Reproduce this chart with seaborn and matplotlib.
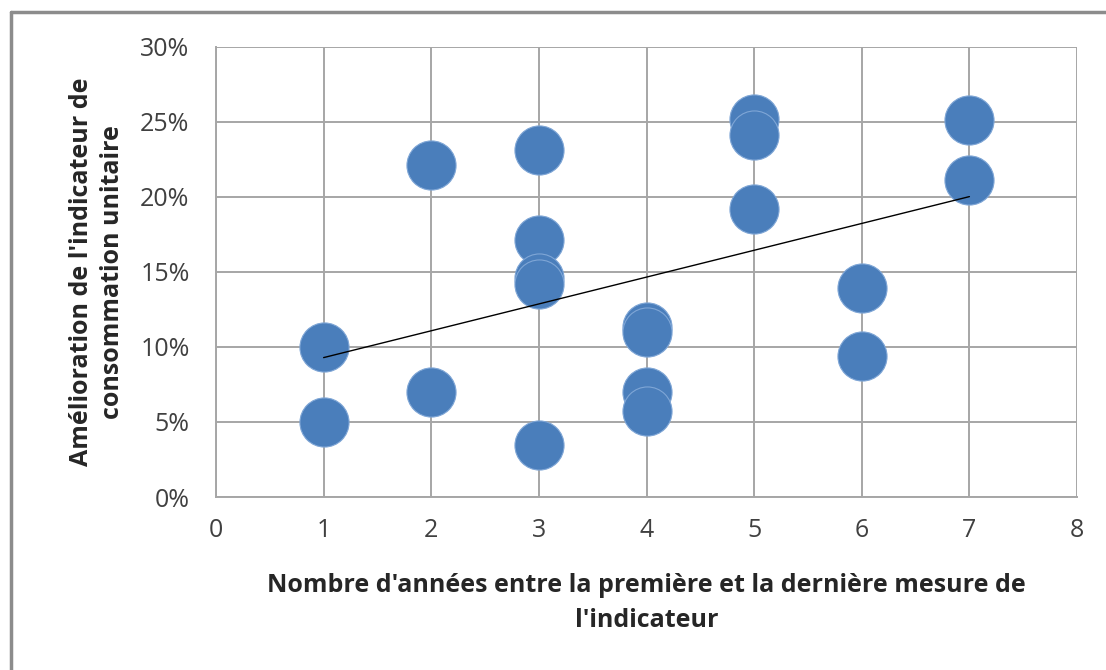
import numpy as np
import pandas as pd
import matplotlib
matplotlib.use("Agg")
import matplotlib.pyplot as plt
import seaborn as sns
from matplotlib.ticker import PercentFormatter, MultipleLocator
from matplotlib.lines import Line2D

# data (years between measures, improvement as fraction)
years = [1, 1, 2, 2, 3, 3, 3, 3, 3, 4, 4, 4, 4, 5, 5, 5, 6, 6, 7, 7]
improvement = [0.100, 0.050, 0.221, 0.070, 0.231, 0.171, 0.146, 0.142, 0.035,
               0.113, 0.110, 0.070, 0.057, 0.252, 0.241, 0.192, 0.139, 0.094,
               0.251, 0.211]

x_label = "Nombre d'années entre la première et la dernière mesure de\nl'indicateur"
y_label = "Amélioration de l'indicateur de\nconsommation unitaire"

df = pd.DataFrame({"years": years, "improvement": improvement})

sns.set_style("white")
plt.rcParams['font.family'] = ['Open Sans', 'DejaVu Sans']

fig = plt.figure(figsize=(11.06, 6.70), dpi=100)
ax = fig.add_axes([0.1953, 0.2582, 0.7785, 0.6717])

grid_col = "#A6A6A6"
sns.scatterplot(data=df, x="years", y="improvement", ax=ax, s=1250,
                color="#4A7EBB", edgecolor="#7FA6D6", linewidth=0.8, zorder=3)
sns.regplot(data=df, x="years", y="improvement", ax=ax, scatter=False, ci=None,
            truncate=True, line_kws=dict(color="black", lw=1.0, zorder=4))

ax.set_xlim(0, 8)
ax.set_ylim(0, 0.30)
ax.xaxis.set_major_locator(MultipleLocator(1))
ax.yaxis.set_major_locator(MultipleLocator(0.05))
ax.yaxis.set_major_formatter(PercentFormatter(1.0, decimals=0))
ax.grid(True, color=grid_col, lw=1.4)
ax.set_axisbelow(True)
for side in ["top", "right"]:
    ax.spines[side].set_visible(False)
for side in ["left", "bottom"]:
    ax.spines[side].set_color(grid_col)
    ax.spines[side].set_linewidth(1.4)
ax.tick_params(axis="both", direction="out", length=7, width=1.4, color=grid_col,
               labelsize=18, labelcolor="#404040")
ax.tick_params(axis="y", pad=12)
ax.tick_params(axis="x", pad=8)

ax.set_xlabel(x_label, fontsize=18, fontweight="bold", labelpad=22, linespacing=1.5)
ax.set_ylabel(y_label, fontsize=18, fontweight="bold", labelpad=11, linespacing=1.3)

# outer chart border (top and left visible)
fig.add_artist(Line2D([11 / 1106, 1.0], [1 - 12 / 670, 1 - 12 / 670],
                      transform=fig.transFigure, color="#8C8C8C", lw=2.5))
fig.add_artist(Line2D([11 / 1106, 11 / 1106], [0, 1 - 12 / 670],
                      transform=fig.transFigure, color="#8C8C8C", lw=2.5))

fig.savefig("out.png", dpi=100)
